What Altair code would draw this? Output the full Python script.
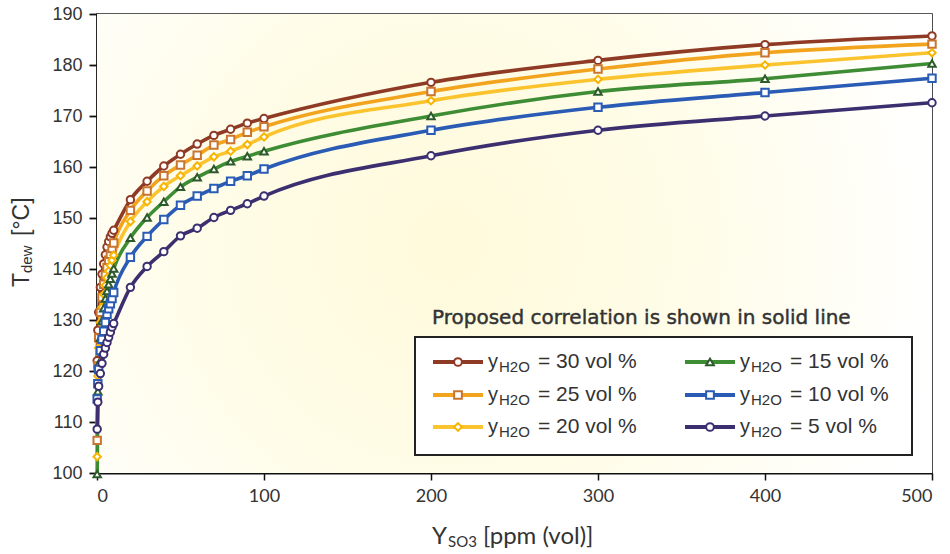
import altair as alt
import pandas as pd

# SO3 concentration grid, ppm (vol)
ppm = [0.1, 0.5, 1, 2, 3, 4, 5, 6, 7, 8, 9, 10, 20, 30, 40, 50, 60, 70, 80, 90, 100, 200, 300, 400, 500]

# Acid dew point, deg C, for each water vapour content
t_h2o_30 = [122.0, 128.0, 131.5, 136.4, 139.0, 141.0, 142.8, 144.3, 145.4, 146.3, 147.0, 147.6, 153.6, 157.2,
            160.2, 162.5, 164.5, 166.2, 167.4, 168.6, 169.5, 176.6, 180.9, 184.0, 185.7]
t_h2o_25 = [106.4, 121.0, 126.5, 131.5, 134.4, 137.0, 138.8, 140.3, 141.7, 142.9, 144.0, 145.1, 151.5, 155.3,
            158.3, 160.4, 162.3, 164.3, 165.4, 166.8, 167.9, 174.8, 179.2, 182.4, 184.1]
t_h2o_20 = [103.2, 119.0, 124.5, 129.5, 132.5, 135.0, 136.8, 138.3, 139.6, 140.7, 141.7, 142.7, 149.3, 153.2,
            156.2, 158.3, 160.2, 162.0, 163.1, 164.4, 165.9, 173.0, 177.2, 180.0, 182.4]
t_h2o_15 = [99.8, 116.0, 121.5, 126.5, 129.8, 132.3, 134.2, 135.7, 137.0, 138.1, 139.1, 140.1, 146.1, 150.1,
            153.2, 156.1, 158.0, 159.6, 161.1, 162.1, 163.1, 170.0, 174.8, 177.3, 180.3]
t_h2o_10 = [114.5, 117.5, 120.3, 124.0, 126.2, 127.8, 129.5, 131.1, 132.2, 133.2, 134.2, 135.4, 142.3, 146.4,
            149.7, 152.5, 154.3, 155.8, 157.2, 158.3, 159.6, 167.2, 171.7, 174.6, 177.4]
t_h2o_5 = [108.6, 113.9, 117.0, 119.5, 121.5, 123.3, 124.5, 125.6, 126.6, 127.6, 128.6, 129.3, 136.4, 140.5,
           143.4, 146.5, 148.0, 150.1, 151.5, 152.8, 154.3, 162.2, 167.2, 170.0, 172.6]

series_labels = ["30 vol %", "25 vol %", "20 vol %", "15 vol %", "10 vol %", "5 vol %"]
series_values = [t_h2o_30, t_h2o_25, t_h2o_20, t_h2o_15, t_h2o_10, t_h2o_5]
line_colors = ["#8E3A24", "#F2A41F", "#FBC42E", "#3E8C34", "#2A5BB5", "#3B2F70"]
marker_colors = ["#8E3A24", "#C9742F", "#F7B500", "#2D5A2B", "#2A5BB5", "#3B2F70"]
marker_shapes = ["circle", "square", "diamond", "triangle-up", "square", "circle"]

x_ticks = [0, 100, 200, 300, 400, 500]
y_ticks = [100, 110, 120, 130, 140, 150, 160, 170, 180, 190]

W, H = 835, 459
TEXT = "#333333"
SANS = "Liberation Sans"

rows = []
for label, temps in zip(series_labels, series_values):
    for p, t in zip(ppm, temps):
        rows.append({"ppm": p, "tdew": t, "series": label})
df = pd.DataFrame(rows)

one = alt.Data(values=[{}])

x_enc = alt.X("ppm:Q", scale=alt.Scale(domain=[0, 500], nice=False),
              axis=alt.Axis(values=x_ticks, title=None, grid=False, labelFont="Lato",
                            labelFontSize=18, labelColor=TEXT, labelPadding=7,
                            tickSize=7, tickWidth=1.5, tickColor="#111",
                            domainColor="#111", domainWidth=2.2))
y_enc = alt.Y("tdew:Q", scale=alt.Scale(domain=[100, 190], nice=False, zero=False),
              axis=alt.Axis(values=y_ticks, title=None, grid=False, labelFont=SANS,
                            labelFontSize=18, labelColor=TEXT, labelPadding=7,
                            tickSize=8, tickWidth=1.8, tickColor="#111",
                            domainColor="#111", domainWidth=2.2))

# soft warm glow behind the curves
glow = alt.Chart(one).mark_rect(
    fill=alt.RadialGradient(
        gradient="radial", x1=0.42, y1=0.5, r1=0.0, x2=0.42, y2=0.5, r2=0.6,
        stops=[alt.GradientStop(offset=0, color="#FFFADB"),
               alt.GradientStop(offset=0.5, color="#FFFCE8"),
               alt.GradientStop(offset=1, color="#FFFFFF")]),
    stroke=None
).encode(x=alt.value(0), x2=alt.value(W), y=alt.value(0), y2=alt.value(H))

lines = alt.Chart(df).mark_line(strokeWidth=3.6, interpolate="monotone").encode(
    x=x_enc, y=y_enc,
    color=alt.Color("series:N", scale=alt.Scale(domain=series_labels, range=line_colors), legend=None),
    detail="series:N",
)

points = alt.Chart(df).mark_point(filled=False, fill="white", fillOpacity=1, strokeWidth=2,
                                  size=55, opacity=1).encode(
    x=x_enc, y=y_enc,
    stroke=alt.Stroke("series:N", scale=alt.Scale(domain=series_labels, range=marker_colors), legend=None),
    shape=alt.Shape("series:N", scale=alt.Scale(domain=series_labels, range=marker_shapes), legend=None),
)

layers = [glow, lines, points]

# legend box and caption
layers.append(alt.Chart(one).mark_rect(fill="white", stroke="#222", strokeWidth=2).encode(
    x=alt.value(318), x2=alt.value(815), y=alt.value(323), y2=alt.value(441)))
layers.append(alt.Chart(one).mark_text(
    text="Proposed correlation is shown in solid line", font="DejaVu Sans", fontSize=20,
    color="#333333", stroke="#333333", strokeWidth=0.45, align="left", baseline="middle"
).encode(x=alt.value(335), y=alt.value(304)))

row_y = [348, 381, 413]
col_x = [336, 588]
for i, label in enumerate(series_labels):
    x0 = col_x[i // 3]
    y0 = row_y[i % 3]
    layers.append(alt.Chart(one).mark_rule(color=line_colors[i], strokeWidth=4).encode(
        x=alt.value(x0), x2=alt.value(x0 + 50), y=alt.value(y0)))
    layers.append(alt.Chart(one).mark_point(
        shape=marker_shapes[i], filled=False, fill="white", fillOpacity=1,
        stroke=marker_colors[i], strokeWidth=2, size=60, opacity=1
    ).encode(x=alt.value(x0 + 25), y=alt.value(y0)))
    layers.append(alt.Chart(one).mark_text(
        text="y", font=SANS, fontSize=20, color=TEXT, align="left", baseline="middle"
    ).encode(x=alt.value(x0 + 55), y=alt.value(y0)))
    layers.append(alt.Chart(one).mark_text(
        text="H2O", font=SANS, fontSize=15, color=TEXT, align="left", baseline="middle"
    ).encode(x=alt.value(x0 + 66), y=alt.value(y0 + 5)))
    layers.append(alt.Chart(one).mark_text(
        text="= " + label, font=SANS, fontSize=21, color=TEXT, align="left", baseline="middle"
    ).encode(x=alt.value(x0 + 105), y=alt.value(y0)))

# axis titles with subscripts
layers.append(alt.Chart(one).mark_text(
    text="Y", font="Lato", fontSize=24, color=TEXT, align="left", baseline="middle"
).encode(x=alt.value(335), y=alt.value(523)))
layers.append(alt.Chart(one).mark_text(
    text="SO3", font="Lato", fontSize=15, color=TEXT, align="left", baseline="middle"
).encode(x=alt.value(351), y=alt.value(528)))
layers.append(alt.Chart(one).mark_text(
    text="[ppm (vol)]", font="Lato", fontSize=24, color=TEXT, align="left", baseline="middle"
).encode(x=alt.value(386), y=alt.value(523)))

layers.append(alt.Chart(one).mark_text(
    text="T", font=SANS, fontSize=23, color=TEXT, align="left", baseline="middle", angle=270
).encode(x=alt.value(-75), y=alt.value(273)))
layers.append(alt.Chart(one).mark_text(
    text="dew", font=SANS, fontSize=15, color=TEXT, align="left", baseline="middle", angle=270
).encode(x=alt.value(-70), y=alt.value(259)))
layers.append(alt.Chart(one).mark_text(
    text="[°C]", font=SANS, fontSize=23, color=TEXT, align="left", baseline="middle", angle=270
).encode(x=alt.value(-75), y=alt.value(222)))

chart = alt.layer(*layers).properties(
    width=W, height=H,
    padding={"left": 97, "top": 14, "right": 18, "bottom": 81},
    autosize=alt.AutoSizeParams(type="none"),
    background="white",
).configure_view(stroke="#222", strokeWidth=1.6)

chart.save("out.html", embed_options={"renderer": "svg", "actions": False})
